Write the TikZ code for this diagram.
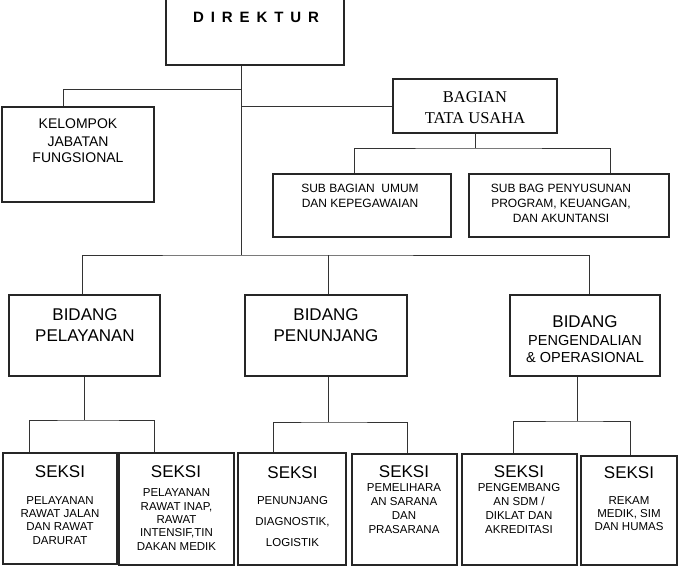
\documentclass[tikz,border=0pt]{standalone}
\usepackage{fontspec}
\setmainfont{Liberation Sans}
\newfontfamily\tmsfont{Liberation Serif}
\begin{document}
\begin{tikzpicture}[x=1pt,y=-1pt,
  box/.style={draw=black!85,line width=1.1pt,inner sep=0pt,fill=white},
  conn/.style={draw=black!80,line width=0.9pt},
  txt/.style={align=center,inner sep=0pt,anchor=base,text=black},
  ttl/.style={txt,font=\fontsize{17}{20}\selectfont},
  body/.style={txt,font=\fontsize{11.5}{13.5}\selectfont}]
\useasboundingbox (0,0) rectangle (680,567);
\clip (0,0) rectangle (680,567);
\fill[white] (0,0) rectangle (680,567);
% boxes
\node[box,minimum width=178pt,minimum height=72pt] (dir) at (255,29) {};
\node[box,minimum width=152pt,minimum height=95pt] (kel) at (78,154.5) {};
\node[box,minimum width=164pt,minimum height=54pt] (bag) at (475,106) {};
\node[box,minimum width=178pt,minimum height=63pt] (sub1) at (362,205.5) {};
\node[box,minimum width=200pt,minimum height=63pt] (sub2) at (569,205.5) {};
\node[box,minimum width=151pt,minimum height=81pt] (bid1) at (84.5,335.5) {};
\node[box,minimum width=162pt,minimum height=81pt] (bid2) at (326,335.5) {};
\node[box,minimum width=150pt,minimum height=81pt] (bid3) at (585,335.5) {};
\node[box,minimum width=114pt,minimum height=111pt] (s1) at (60,508.5) {};
\node[box,minimum width=115pt,minimum height=112pt] (s2) at (176.5,509) {};
\node[box,minimum width=108pt,minimum height=112pt] (s3) at (292,509) {};
\node[box,minimum width=105pt,minimum height=111pt] (s4) at (404.5,509.5) {};
\node[box,minimum width=115pt,minimum height=111pt] (s5) at (519.5,509.5) {};
\node[box,minimum width=96pt,minimum height=109pt] (s6) at (629,510.5) {};
% junctions
\coordinate (jk) at (241,89);
\coordinate (jb) at (241,106);
\coordinate (jm) at (241,255);
\coordinate (jt) at (475,148);
\coordinate (j1) at (84.5,420);
\coordinate (j2) at (328,422);
\coordinate (j3) at (577,421);
% connectors
\draw[conn] (dir.south -| jm) -- (jm);
\draw[conn] (jk) -| ([xshift=-15pt]kel.north);
\draw[conn] (jb) -- (bag.west);
\draw[conn] (bag.south) -- (jt);
\draw[conn] ([xshift=-8pt]sub1.north) |- (jt) -| ([xshift=41pt]sub2.north);
\draw[conn] ([xshift=-2pt]bid1.north) |- (jm) -| ([xshift=4pt]bid3.north);
\draw[conn] (jm -| bid2.north) ++(2pt,0) -- ([xshift=2pt]bid2.north);
\draw[conn] (bid1.south) -- (j1);
\draw[conn] ([xshift=-31pt]s1.north) |- (j1) -| ([xshift=-22.5pt]s2.north);
\draw[conn] ([xshift=2pt]bid2.south) -- (j2);
\draw[conn] ([xshift=-19pt]s3.north) |- (j2) -| ([xshift=2.5pt]s4.north);
\draw[conn] ([xshift=-8pt]bid3.south) -- (j3);
\draw[conn] ([xshift=-6.5pt]s5.north) |- (j3) -| ([xshift=1pt]s6.north);
% texts (multi-line nodes: base anchor = baseline of last line)
\node[anchor=base west,inner sep=0pt,font=\bfseries\fontsize{15}{18}\selectfont\addfontfeature{LetterSpace=46}] (dirt) at (193,23) {DIREKTUR};
\node[txt,font=\fontsize{14}{17}\selectfont] (kelt) at (78,163) {KELOMPOK\\JABATAN\\FUNGSIONAL};
\node[txt,font=\tmsfont\fontsize{16.5}{21}\selectfont] (bagt) at (475,124) {BAGIAN\\TATA USAHA};
\node[txt,font=\fontsize{12}{14.5}\selectfont] (sub1t) at (360,207.5) {SUB BAGIAN~ UMUM\\DAN KEPEGAWAIAN};
\node[txt,font=\fontsize{12}{14.5}\selectfont] (sub2t) at (561,222) {SUB BAG PENYUSUNAN\\PROGRAM, KEUANGAN,\\DAN AKUNTANSI};
\node[txt,font=\fontsize{17}{21}\selectfont] (bid1t) at (85,341) {BIDANG\\PELAYANAN};
\node[txt,font=\fontsize{17}{21}\selectfont] (bid2t) at (326,341) {BIDANG\\PENUNJANG};
\node[ttl] (bid3a) at (585,327) {BIDANG};
\node[txt,font=\fontsize{14.5}{17}\selectfont] (bid3b) at (585,362) {PENGENDALIAN\\\&{} OPERASIONAL};
\node[ttl] (s1a) at (60,477) {SEKSI};
\node[body,font=\fontsize{11.5}{13.3}\selectfont] (s1b) at (60,544) {PELAYANAN\\RAWAT JALAN\\DAN RAWAT\\DARURAT};
\node[ttl] (s2a) at (176,477) {SEKSI};
\node[body,font=\fontsize{11.5}{13.3}\selectfont] (s2b) at (176.5,550) {PELAYANAN\\RAWAT INAP,\\RAWAT\\INTENSIF,TIN\\DAKAN MEDIK};
\node[ttl] (s3a) at (292.5,478) {SEKSI};
\node[body,font=\fontsize{11.5}{21}\selectfont] (s3b) at (292.5,546) {PENUNJANG\\DIAGNOSTIK,\\LOGISTIK};
\node[ttl] (s4a) at (404,477) {SEKSI};
\node[body,font=\fontsize{11.5}{13.7}\selectfont] (s4b) at (404,533) {PEMELIHARA\\AN SARANA\\DAN\\PRASARANA};
\node[ttl] (s5a) at (519,477) {SEKSI};
\node[body,font=\fontsize{11.5}{13.7}\selectfont] (s5b) at (519,533) {PENGEMBANG\\AN SDM /\\DIKLAT DAN\\AKREDITASI};
\node[ttl] (s6a) at (629,478) {SEKSI};
\node[body,font=\fontsize{11.5}{13}\selectfont] (s6b) at (629,530) {REKAM\\MEDIK, SIM\\DAN HUMAS};
\end{tikzpicture}
\end{document}
